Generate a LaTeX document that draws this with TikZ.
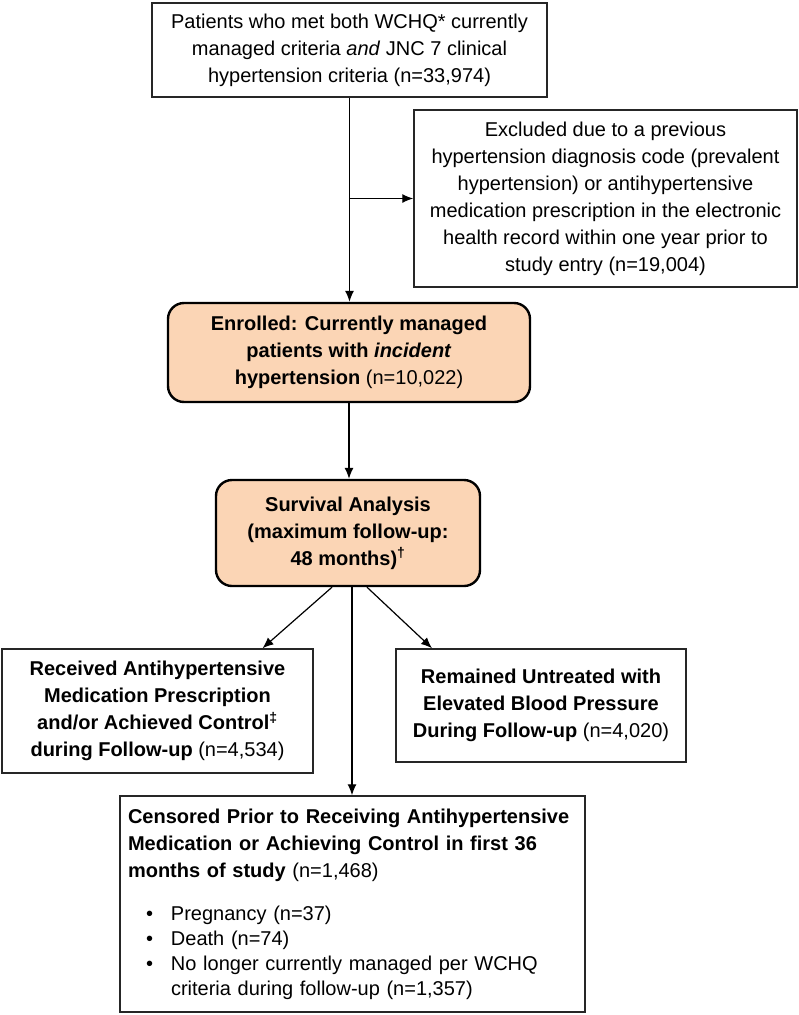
\documentclass[tikz,border=0pt]{standalone}
\usepackage{fontspec}
\setmainfont{Liberation Sans}
\usetikzlibrary{arrows.meta}
\definecolor{peach}{HTML}{FBD5B5}
\newcommand{\blt}{\makebox[43pt][l]{\hspace*{18pt}\textbullet}}
\tikzset{
  box/.style={draw=black!85, line width=1.5pt, fill=white, inner sep=8pt,
    font=\fontsize{20}{27}\selectfont, align=center},
  rbox/.style={box, draw=black, line width=2.4pt, fill=peach, rounded corners=16pt},
  arr/.style={line width=1.2pt, -{Latex[length=11pt,width=9pt]}},
  ln/.style={line width=1.2pt}
}
\begin{document}
\begin{tikzpicture}[x=1pt,y=-1pt]
\useasboundingbox (0,0) rectangle (799,1015);
\node[box, minimum width=395pt, minimum height=94pt] (top) at (349.5,50)
  {Patients who met both WCHQ* currently\\ managed criteria \textit{and} JNC 7 clinical\\ hypertension criteria (n=33,974)};
\node[box, minimum width=383pt, minimum height=177pt] (excl) at (605.5,198.5)
  {Excluded due to a previous\\ hypertension diagnosis code (prevalent\\ hypertension) or antihypertensive\\ medication prescription in the electronic\\ health record within one year prior to\\ study entry (n=19,004)};
\node[rbox, minimum width=362pt, minimum height=99pt] (enr) at (349,352.5)
  {\textbf{Enrolled: Currently managed}\\ \textbf{patients with \textit{incident}}\\ \textbf{hypertension} (n=10,022)};
\node[rbox, minimum width=264pt, minimum height=106pt] (surv) at (348,533)
  {\textbf{Survival Analysis}\\ \textbf{(maximum follow-up:}\\ \textbf{48 months)\textsuperscript{†}}};
\node[box, minimum width=311pt, minimum height=124pt] (rec) at (157.5,711)
  {\textbf{Received Antihypertensive}\\ \textbf{Medication Prescription}\\ \textbf{and/or Achieved Control\textsuperscript{‡}}\\ \textbf{during Follow-up} (n=4,534)};
\node[box, minimum width=290pt, minimum height=113pt] (rem) at (541,705.5)
  {\textbf{Remained Untreated with}\\ \textbf{Elevated Blood Pressure}\\ \textbf{During Follow-up} (n=4,020)};
\node[box, minimum width=465pt, minimum height=216pt, text width=449pt, align=left] (cens) at (352.5,904)
  {\textbf{Censored Prior to Receiving Antihypertensive}\\
   \textbf{Medication or Achieving Control in first 36}\\
   \textbf{months of study} (n=1,468)\\[16pt]
   \blt Pregnancy (n=37)\\[-2pt]
   \blt Death (n=74)\\[-2pt]
   \blt No longer currently managed per WCHQ\\[-2pt]
   \hspace*{43pt}criteria during follow-up (n=1,357)};
% connectors
\draw[arr] (top.south) -- (top.south |- enr.north);
\draw[arr] (top.south |- excl.west) -- (excl.west);
\draw[arr] (enr.south) -- (enr.south |- surv.north);
\draw[arr] ([xshift=-16pt]surv.south) -- ([xshift=105pt]rec.north);
\draw[arr] ([xshift=19pt]surv.south) -- ([xshift=-109pt]rem.north);
\draw[arr] ([xshift=4pt]surv.south) -- ([xshift=-0.5pt]cens.north);
\end{tikzpicture}
\end{document}
